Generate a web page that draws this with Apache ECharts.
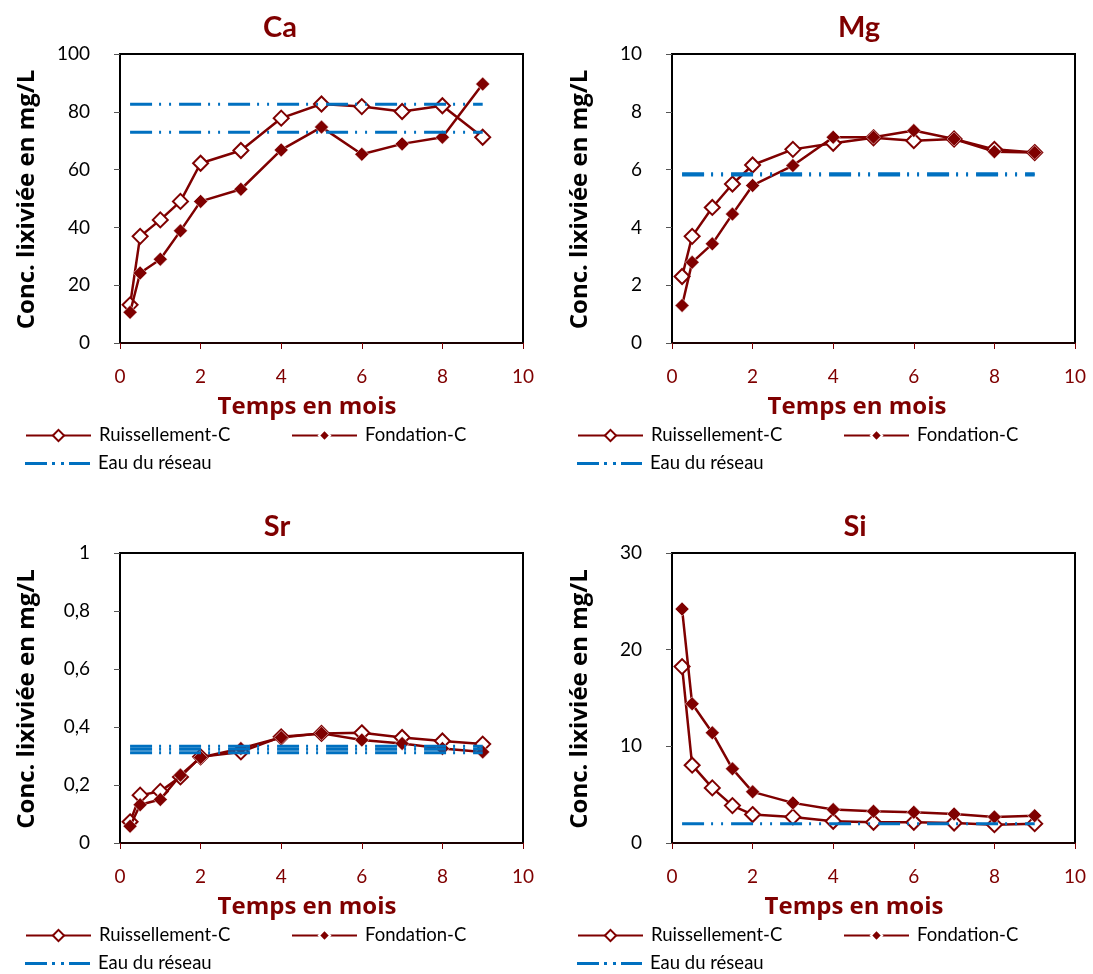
<!DOCTYPE html>
<html><head><meta charset="utf-8">
<script src="https://cdn.jsdelivr.net/npm/echarts@6/dist/echarts.min.js"></script>
<style>html,body{margin:0;padding:0;background:#fff}#c{width:1093px;height:974px}</style>
</head><body><div id="c"></div>
<script>
// time points (months)
const times = [0.25, 0.5, 1, 1.5, 2, 3, 4, 5, 6, 7, 8, 9];
const xTicks = [0, 2, 4, 6, 8, 10];

// Ca (mg/L)
const caRuis = [13.2, 36.9, 42.6, 49.0, 62.2, 66.6, 77.8, 82.7, 81.8, 80.1, 82.1, 71.2];
const caFond = [10.6, 24.2, 29.0, 38.8, 49.0, 53.2, 66.8, 74.7, 65.3, 68.9, 71.2, 89.6];
const caEau = [82.6, 72.9];
// Mg
const mgRuis = [2.30, 3.69, 4.69, 5.50, 6.16, 6.70, 6.91, 7.10, 7.00, 7.06, 6.70, 6.59];
const mgFond = [1.30, 2.79, 3.43, 4.46, 5.45, 6.14, 7.12, 7.12, 7.35, 7.06, 6.62, 6.59];
const mgEau = [5.81, 5.86];
// Sr
const srRuis = [0.073, 0.165, 0.178, 0.228, 0.297, 0.314, 0.366, 0.378, 0.380, 0.364, 0.352, 0.341];
const srFond = [0.058, 0.132, 0.150, 0.234, 0.295, 0.326, 0.364, 0.378, 0.355, 0.343, 0.326, 0.314];
const srEau = [0.334, 0.323, 0.311];
// Si
const siRuis = [18.25, 8.05, 5.70, 3.87, 2.94, 2.70, 2.25, 2.14, 2.14, 2.07, 1.90, 2.00];
const siFond = [24.2, 14.4, 11.4, 7.67, 5.29, 4.15, 3.46, 3.28, 3.18, 3.00, 2.70, 2.83];
const siEau = [2.0];

const titles = ['Ca', 'Mg', 'Sr', 'Si'];
const yMax = [100, 10, 1, 30];
const yInterval = [20, 2, 0.2, 10];
const seriesNames = ['Ruissellement-C', 'Fondation-C', 'Eau du réseau'];
const yTitle = 'Conc. lixiviée en mg/L';
const xTitle = 'Temps en mois';

const RED = '#7f0000', BLUE = '#0070c0';
const FONT = 'Lato, "Open Sans", sans-serif';
const BFONT = '"Open Sans", Lato, sans-serif';

const panels = [
  {ruis: caRuis, fond: caFond, eau: caEau, left: 120, top: 54, h: 289, cx: 280, xtx: 307, ylx: 27},
  {ruis: mgRuis, fond: mgFond, eau: mgEau, left: 672, top: 54, h: 289, cx: 859, xtx: 857, ylx: 580},
  {ruis: srRuis, fond: srFond, eau: srEau, left: 120, top: 553, h: 290, cx: 277, xtx: 307, ylx: 27},
  {ruis: siRuis, fond: siFond, eau: siEau, left: 672, top: 553, h: 290, cx: 855, xtx: 854, ylx: 580}
];

const grid = [], xAxis = [], yAxis = [], series = [], graphic = [], legend = [];
const dash = [22, 7, 2, 8, 2, 8];
const eauIcon = 'path://M0,0h22v3h-22z M27,0h3v3h-3z M36,0h3v3h-3z M44,0h21v3h-21z';

panels.forEach((p, i) => {
  grid.push({left: p.left, top: p.top, width: 403, height: p.h, show: true,
    borderColor: '#000', borderWidth: 2, backgroundColor: '#fff'});
  xAxis.push({type: 'value', gridIndex: i, min: xTicks[0], max: xTicks[xTicks.length - 1], interval: 2,
    axisLine: {show: true, lineStyle: {color: '#1a0000', width: 2}},
    axisTick: {show: true, inside: false, length: 6, lineStyle: {color: RED, width: 1}},
    axisLabel: {color: RED, fontSize: 19, fontFamily: FONT, margin: 24},
    splitLine: {show: false}});
  yAxis.push({type: 'value', gridIndex: i, min: 0, max: yMax[i], interval: yInterval[i],
    axisLine: {show: true, lineStyle: {color: '#000', width: 2}},
    axisTick: {show: true, inside: false, length: 6, lineStyle: {color: '#555', width: 1}},
    axisLabel: {color: '#000', fontSize: 19, fontFamily: FONT, margin: 30,
      formatter: v => String(Math.round(v * 100) / 100).replace('.', ',')},
    splitLine: {show: false}});

  series.push({name: seriesNames[0], type: 'line', xAxisIndex: i, yAxisIndex: i,
    data: times.map((t, k) => [t, p.ruis[k]]), symbol: 'diamond', symbolSize: 15,
    lineStyle: {color: RED, width: 2.5}, itemStyle: {color: '#fff', borderColor: RED, borderWidth: 2},
    z: 2, animation: false});
  series.push({name: seriesNames[1], type: 'line', xAxisIndex: i, yAxisIndex: i,
    data: times.map((t, k) => [t, p.fond[k]]), symbol: 'diamond', symbolSize: 14,
    lineStyle: {color: RED, width: 2.5}, itemStyle: {color: RED, borderColor: '#fff', borderWidth: 0.5},
    z: 3, animation: false});
  p.eau.forEach(v => {
    series.push({name: seriesNames[2], type: 'line', xAxisIndex: i, yAxisIndex: i,
      data: [[times[0], v], [times[times.length - 1], v]], symbol: 'none',
      lineStyle: {color: BLUE, width: 3, type: dash}, itemStyle: {color: BLUE},
      z: 4, animation: false});
  });

  // titles
  graphic.push({type: 'text', x: p.cx, y: p.top - 26, style: {text: titles[i], fill: RED,
    font: 'bold 29px ' + FONT, textAlign: 'center', textVerticalAlign: 'middle'}});
  graphic.push({type: 'text', x: p.xtx, y: p.top + p.h + 64, style: {text: xTitle, fill: RED,
    font: 'bold 24px ' + BFONT, textAlign: 'center', textVerticalAlign: 'middle'}});
  graphic.push({type: 'text', x: p.ylx, y: p.top + p.h / 2 + 1, rotation: Math.PI / 2,
    style: {text: yTitle, fill: '#000', font: 'bold 24px ' + BFONT, textAlign: 'center', textVerticalAlign: 'middle'}});

  // legends
  const lx = p.left - 95;
  const ly = p.top + p.h + 83;
  const common = {itemWidth: 65, itemHeight: 14, padding: 0, selectedMode: false,
    textStyle: {color: '#000', fontSize: 18.5, fontFamily: FONT, padding: [0, 0, 0, 3]}};
  legend.push(Object.assign({left: lx, top: ly, data: [seriesNames[0]]}, common));
  legend.push(Object.assign({left: lx + 266, top: ly, data: [seriesNames[1]]}, common));
  legend.push(Object.assign({}, common, {left: lx, top: ly + 28, itemHeight: 3,
    data: [{name: seriesNames[2], icon: eauIcon, itemStyle: {color: BLUE}}]}));
});

const chart = echarts.init(document.getElementById('c'), null, {renderer: 'canvas'});
chart.setOption({backgroundColor: '#fff', animation: false, grid, xAxis, yAxis, series, legend, graphic});
</script></body></html>
